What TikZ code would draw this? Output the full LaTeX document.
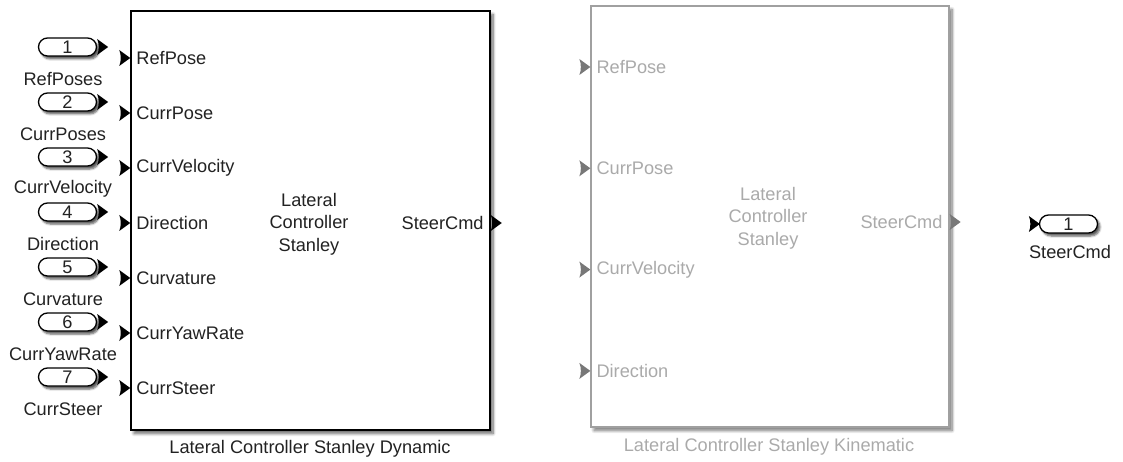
\documentclass[tikz,border=0pt]{standalone}
\usepackage{fontspec}
\setmainfont{Liberation Sans}
\usetikzlibrary{shapes.misc,shadows.blur}

\definecolor{ink}{RGB}{34,34,34}
\definecolor{dimline}{RGB}{160,160,160}
\definecolor{dimtext}{RGB}{170,170,170}
\definecolor{dimport}{RGB}{120,120,120}

\tikzset{
  lbl/.style={inner sep=0pt, font=\fontsize{18.2}{22.5}\selectfont, text=ink},
  dimlbl/.style={lbl, text=dimtext},
  blockbox/.style={draw=black, line width=1.5pt, fill=white,
    blur shadow={shadow xshift=3pt, shadow yshift=-3.5pt, shadow opacity=60, shadow blur steps=8, shadow blur radius=3pt},
    inner sep=0pt},
  dimblock/.style={blockbox, draw=dimline, line width=1.3pt,
    blur shadow={shadow xshift=3pt, shadow yshift=-3.5pt, shadow opacity=30, shadow blur steps=8, shadow blur radius=3pt}},
  portoval/.style={rounded rectangle, draw=black, line width=1.3pt, fill=white,
    minimum width=58pt, minimum height=18pt, inner sep=0pt,
    font=\fontsize{18.2}{20}\selectfont, text=ink,
    blur shadow={shadow xshift=2.5pt, shadow yshift=-3pt, shadow opacity=65, shadow blur steps=5, shadow blur radius=2pt}},
  pics/chev/.style={code={
    \fill[#1] (0,-8) .. controls (2,-3.5) and (2,3.5) .. (0,8) -- (11,0) -- cycle;}},
}

\begin{document}
\begin{tikzpicture}[x=1pt, y=-1pt]
\useasboundingbox (0,0) rectangle (1123,462);

% ---- Inports 1..7 ----
\foreach \n/\name [count=\i from 0] in {1/RefPoses,2/CurrPoses,3/CurrVelocity,4/Direction,5/Curvature,6/CurrYawRate,7/CurrSteer}{
  \pgfmathsetmacro{\yy}{47+55*\i}
  \node[portoval] (in\n) at (67.5,\yy) {\n};
  \pic at (in\n.east) {chev=black};
  \node[lbl] (in\n lab) at (63,\yy+32) {\name};
}

% ---- Lateral Controller Stanley Dynamic ----
\node[blockbox, minimum width=359pt, minimum height=419pt] (dyn) at (310.5,220.5) {};
\foreach \p [count=\i from 0] in {RefPose,CurrPose,CurrVelocity,Direction,Curvature,CurrYawRate,CurrSteer}{
  \pgfmathsetmacro{\yy}{58+55*\i}
  \coordinate (dynin\i) at (dyn.west |- 0,\yy);
  \pic at ([xshift=-11pt]dynin\i) {chev=black};
  \node[lbl, anchor=west] (dynlab\i) at ([xshift=6pt]dynin\i) {\p};
}
\node[lbl, align=center] (dyncore) at (309,224) {Lateral\\Controller\\Stanley};
\coordinate (dynout) at (dyn.east |- 0,223);
\node[lbl, anchor=east] (dynoutlab) at ([xshift=-7pt]dynout) {SteerCmd};
\pic at (dynout) {chev=black};
\node[lbl] (dynname) at (310,449) {Lateral Controller Stanley Dynamic};

% ---- Lateral Controller Stanley Kinematic (commented out) ----
\node[dimblock, minimum width=358pt, minimum height=421pt] (kin) at (770,216.5) {};
\foreach \p [count=\i from 0] in {RefPose,CurrPose,CurrVelocity,Direction}{
  \pgfmathsetmacro{\yy}{67+101.3*\i}
  \coordinate (kinin\i) at (kin.west |- 0,\yy);
  \pic at ([xshift=-11pt]kinin\i) {chev=dimport};
  \node[dimlbl, anchor=west] (kinlab\i) at ([xshift=6pt]kinin\i) {\p};
}
\node[dimlbl, align=center] (kincore) at (768,218) {Lateral\\Controller\\Stanley};
\coordinate (kinout) at (kin.east |- 0,222);
\node[dimlbl, anchor=east] (kinoutlab) at ([xshift=-7pt]kinout) {SteerCmd};
\pic at (kinout) {chev=dimport};
\node[dimlbl] (kinname) at (769,447) {Lateral Controller Stanley Kinematic};

% ---- Outport 1 ----
\node[portoval] (out1) at (1068.5,224) {1};
\pic at ([xshift=-10pt]out1.west) {chev=black};
\node[lbl] (out1lab) at (1070,252) {SteerCmd};

\end{tikzpicture}
\end{document}
